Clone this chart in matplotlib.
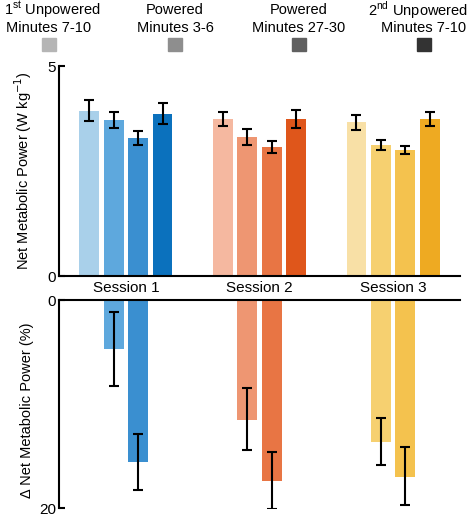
import matplotlib
matplotlib.use("Agg")
import matplotlib.pyplot as plt
import numpy as np

plt.rcParams['font.family'] = ['Liberation Sans', 'DejaVu Sans']

sessions = ["Session 1", "Session 2", "Session 3"]
cond_line1 = ["1$^{\\mathregular{st}}$ Unpowered", "Powered", "Powered", "2$^{\\mathregular{nd}}$ Unpowered"]
cond_line2 = ["Minutes 7-10", "Minutes 3-6", "Minutes 27-30", "Minutes 7-10"]

# Net metabolic power (W/kg), rows = sessions, cols = conditions
power_mean = [[3.93, 3.71, 3.29, 3.86],
              [3.73, 3.30, 3.07, 3.74],
              [3.66, 3.13, 3.00, 3.74]]
power_err = [[0.25, 0.19, 0.16, 0.25],
             [0.17, 0.19, 0.14, 0.21],
             [0.18, 0.12, 0.085, 0.16]]

# Change in net metabolic power (%) for powered conditions
delta_mean = [[4.7, 15.6],
              [11.5, 17.4],
              [13.7, 17.0]]
delta_center = [[4.7, 15.6],
                [11.45, 17.35],
                [13.6, 16.9]]
delta_err = [[3.56, 2.7],
             [2.95, 2.75],
             [2.3, 2.8]]

bar_colors = [["#a9d0ea", "#5ea8dd", "#3a8fd0", "#0b71bd"],
              ["#f5b8a0", "#ee9672", "#e87544", "#df561b"],
              ["#f8e0a6", "#f6d070", "#f4c24e", "#eeaa22"]]
legend_colors = ["#b5b5b5", "#8e8e8e", "#606060", "#333333"]

W, H = 473, 515
fig = plt.figure(figsize=(W / 100, H / 100), dpi=100)

ax1 = fig.add_axes([59 / W, (H - 276) / H, (460 - 59) / W, (276 - 66) / H])
ax2 = fig.add_axes([59 / W, (H - 508) / H, (460 - 59) / W, (508 - 300) / H])

step = 0.183
width = 0.149
offsets = (np.arange(4) - 1.5) * step
x = np.arange(len(sessions))

for s in range(len(sessions)):
    for c in range(4):
        ax1.bar(x[s] + offsets[c], power_mean[s][c], width=width, color=bar_colors[s][c], zorder=2)
        ax1.errorbar(x[s] + offsets[c], power_mean[s][c], yerr=power_err[s][c], fmt='none',
                     ecolor='black', elinewidth=1.5, capsize=3.5, capthick=1.5, zorder=3)
    for k, c in enumerate([1, 2]):
        ax2.bar(x[s] + offsets[c], delta_mean[s][k], width=width, color=bar_colors[s][c], zorder=2)
        ax2.errorbar(x[s] + offsets[c], delta_center[s][k], yerr=delta_err[s][k], fmt='none',
                     ecolor='black', elinewidth=1.5, capsize=3.5, capthick=1.5, zorder=3)

for ax in (ax1, ax2):
    ax.set_xlim(-0.5, 2.5)
    for sp in ax.spines.values():
        sp.set_linewidth(1.5)
    ax.spines['right'].set_visible(False)
    ax.tick_params(axis='y', direction='in', length=4, width=1.5, labelsize=11, pad=2)
    ax.set_xticks([])

ax1.set_ylim(0, 5)
ax1.set_yticks([0, 5])
ax1.spines['top'].set_visible(False)
ax1.set_ylabel("Net Metabolic Power (W kg$^{-1}$)", fontsize=10.5)

ax2.set_ylim(20, 0)
ax2.set_yticks([0, 20])
ax2.spines['bottom'].set_visible(False)
ax2.set_ylabel("\u0394 Net Metabolic Power (%)", fontsize=10.5)
ax1.yaxis.set_label_coords(-0.062, 0.5)
ax2.yaxis.set_label_coords(-0.062, 0.47)

for s in range(len(sessions)):
    px = (59 + (x[s] + 0.5) / 3 * (460 - 59)) / W
    fig.text(px, (H - 288) / H, sessions[s], ha='center', va='center', fontsize=11)

legend_x = [49, 175, 299, 424]
line1_x = [4, 175, 299, 468]
line1_ha = ['left', 'center', 'center', 'right']
for i in range(4):
    fig.text(line1_x[i] / W, (H - 10) / H, cond_line1[i], ha=line1_ha[i], va='center', fontsize=10.5)
    fig.text(legend_x[i] / W, (H - 28) / H, cond_line2[i], ha='center', va='center', fontsize=10.5)
    fig.patches.append(matplotlib.patches.Rectangle(((legend_x[i] - 7) / W, (H - 51) / H),
                                                    14 / W, 13 / H, transform=fig.transFigure,
                                                    color=legend_colors[i]))

fig.savefig("out.png", dpi=100)
